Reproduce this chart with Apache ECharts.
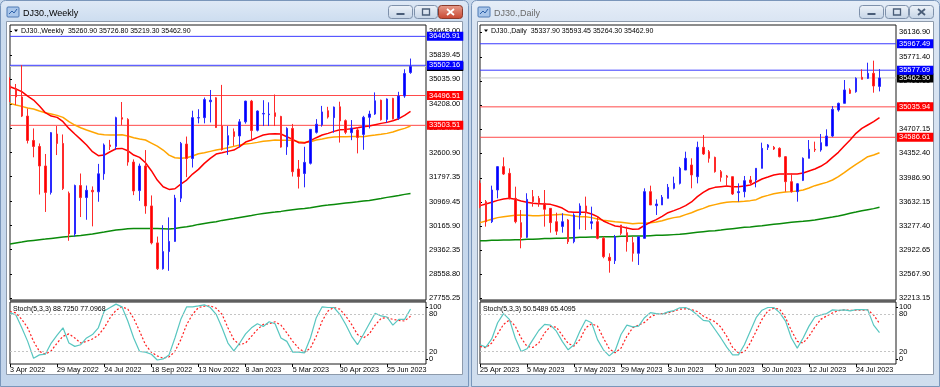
<!DOCTYPE html>
<html><head><meta charset="utf-8">
<script src="https://cdn.jsdelivr.net/npm/echarts@6/dist/echarts.min.js"></script>
<style>html,body{margin:0;padding:0;background:#c6d7eb;}#c{width:940px;height:387px;}</style>
</head><body><div id="c"></div><script>
// ---------- DATA ----------
const weeklyTickLabels = ['3 Apr 2022','29 May 2022','24 Jul 2022','18 Sep 2022','13 Nov 2022','8 Jan 2023','5 Mar 2023','30 Apr 2023','25 Jun 2023'];
const dailyTickLabels = ['25 Apr 2023','5 May 2023','17 May 2023','29 May 2023','8 Jun 2023','20 Jun 2023','30 Jun 2023','12 Jul 2023','24 Jul 2023'];
const weeklyPriceTicks = [27755.25,28558.80,29362.35,30165.90,30969.45,31797.35,32600.90,33404.45,34208.00,35035.90,35839.45,36643.00];
const dailyPriceTicks = [32213.15,32567.90,32922.65,33277.40,33632.15,33986.90,34352.40,34707.15,35061.90,35416.65,35771.40,36136.90];
const stochInnerTicks = [20,80];
const stochOuterLabels = ['0','100'];
const stochLevels = [20,80];

const weeklyLevelsBlue = [36465.91,35502.16];
const weeklyLevelsRed = [34496.51,33503.51];
const dailyLevelsBlue = [35967.49,35577.09];
const dailyLevelsRed = [35035.94,34586.61];
const lastPrice = 35462.90;

const weeklyOpen = [34818,34721,34451,33811,33000,32800,32150,31270,33214,32900,31240,29890,31500,31100,31340,31290,31890,32850,32800,33760,33700,32280,31330,32150,30820,29590,28730,29300,29640,31080,32880,32400,33750,33760,34290,34420,33480,32850,33290,33150,33620,34310,33340,33880,33860,33920,33800,32790,33400,32050,31900,32240,33270,33520,33990,33760,34120,33660,33260,33350,33200,33770,33880,34340,33700,34400,33740,34480,35260.90];
const weeklyHigh = [35100,34880,35510,34060,33400,32900,32550,33280,33480,33200,31300,31530,31900,31500,31470,32220,32900,33020,33790,34280,33740,32370,32230,32680,31170,29800,30180,30440,31190,32950,33130,33990,34040,34430,34680,34440,34850,33480,33400,33710,34320,34350,34000,34340,34270,34530,33820,33440,33550,32350,32790,33380,33710,34150,34120,34130,34290,33700,33680,33440,33820,33990,34600,34360,34400,34420,34620,35370,35726.80];
const weeklyLow = [34280,34180,33780,32900,32440,31200,30620,31200,32514,31350,29660,29800,30450,30360,30140,30960,31690,32680,32680,33510,32160,31180,30990,30560,29540,28690,28700,28660,29630,30950,31780,32100,33570,33570,33600,33420,32660,32520,32820,32770,33560,33000,33300,33480,33480,33480,32760,32520,31800,31400,31440,32200,33230,33460,33730,33260,32930,33210,33010,32570,32690,33400,33850,33660,33590,33700,33680,34420,35219.30];
const weeklyClose = [34721,34451,33811,33000,32800,32150,31270,33260,32900,31400,29890,31500,31100,31340,31290,31890,32850,32800,33760,33710,32280,31320,32150,30820,29590,28730,29300,29640,31080,32900,32400,33760,33760,34360,34340,33430,32700,33160,33130,33620,34310,33330,33980,33900,33880,33800,32780,33400,31960,31800,32270,33370,33540,33950,33780,34110,33650,33270,33410,33100,33770,33880,34320,33690,34380,33720,34480,35230,35462.90];
const weeklyMaRed = [34790,34712,34624,34479,34346,34146,33924,33813,33769,33624,33402,33214,33036,32848,32625,32492,32514,32625,32725,32736,32659,32514,32437,32259,31993,31682,31460,31371,31393,31549,31682,31882,32037,32237,32404,32548,32592,32637,32681,32792,32947,33014,33103,33180,33214,33225,33214,33125,33036,32925,32914,32992,33092,33180,33236,33303,33358,33369,33391,33425,33458,33480,33525,33569,33602,33658,33724,33835,33969];
const weeklyMaOrange = [34235,34180,34135,34080,34046,33980,33924,33880,33835,33769,33624,33513,33425,33347,33280,33214,33192,33180,33180,33192,33147,33092,33047,33014,32914,32814,32681,32514,32426,32404,32426,32481,32559,32592,32637,32681,32714,32759,32803,32848,32881,32903,32936,32970,32992,33014,33003,33003,33003,32959,32936,32959,33014,33047,33092,33114,33125,33125,33136,33136,33125,33158,33180,33203,33236,33280,33347,33402,33480];
const weeklyMaGreen = [29551,29584,29617,29651,29673,29695,29717,29740,29762,29784,29806,29817,29839,29862,29884,29917,29950,29984,30017,30039,30061,30072,30072,30072,30072,30072,30061,30050,30072,30106,30128,30161,30206,30239,30272,30294,30339,30372,30405,30439,30472,30505,30539,30572,30594,30616,30639,30672,30694,30716,30738,30761,30794,30827,30849,30872,30894,30916,30938,30960,30983,31005,31038,31071,31105,31138,31171,31205,31238];
const weeklyStochK = [82.9,79.1,58.4,36.5,9.3,14.7,15.8,33.8,46.4,58.4,33.8,28.4,31.1,42.0,47.5,58.4,85.6,91.1,96.6,92.2,69.3,42.0,20.2,19.1,15.8,6.5,8.2,14.7,42.0,72.0,92.2,92.2,93.8,95.5,91.1,80.2,58.4,33.8,21.3,33.8,48.5,58.4,64.9,60.6,68.2,64.9,42.0,36.5,19.1,19.1,18.0,42.0,74.7,92.2,91.1,91.1,80.2,63.8,44.7,31.1,47.5,64.9,81.8,77.5,75.8,62.7,72.0,72.0,88.725];
const weeklyStochD = [84.6,82.4,72.0,58.4,36.5,20.2,15.8,21.3,33.8,44.7,48.5,42.0,33.8,36.5,40.4,46.4,58.4,74.7,86.7,92.2,88.4,73.6,52.9,31.1,19.1,13.1,9.3,11.4,20.2,39.3,63.8,80.2,91.1,93.3,93.8,90.0,80.2,58.4,39.3,31.1,33.8,44.7,55.6,63.8,64.9,68.2,62.7,50.2,36.5,25.6,19.1,25.6,44.7,69.3,85.6,91.1,88.4,77.5,63.8,47.5,42.0,48.5,62.7,73.6,74.7,72.0,70.4,69.3,77.0968];

const dailyOpen = [33906,33636,33340,33808,34153,34054,33685,33326,33109,33710,33685,33611,33537,33340,33270,33365,33045,33439,33572,33316,33340,33094,32814,32765,33291,33178,33030,32873,33094,33784,33577,33587,33685,33833,33906,34103,34177,34005,34438,34374,34290,34079,34015,34005,33769,33784,33956,33956,34128,34438,34438,34423,34300,33931,33784,33950,34276,34409,34399,34458,34605,34989,35088,35285,35260,35472,35457,35531,35337.90];
const dailyHigh = [33950,33660,33872,34160,34290,34128,33857,33513,33760,33808,33720,33808,33537,33473,33464,33380,33464,33611,33710,33562,33414,33120,32873,33144,33291,33267,33119,33119,33833,33872,33670,33734,33897,34005,34150,34374,34276,34522,34620,34399,34300,34103,34030,34005,33906,34015,34015,34128,34507,34487,34458,34438,34310,34054,33910,34290,34546,34522,34635,34704,35048,35098,35432,35309,35472,35590,35688,35718,35593.45];
const dailyLow = [33540,33267,33320,33685,34030,33670,33316,32947,33100,33562,33560,33267,33178,33144,33178,33011,33021,33227,33217,33227,33080,32800,32587,32715,33144,32898,32750,32701,33094,33587,33439,33587,33685,33818,33890,34103,33833,33906,34325,34212,34064,33931,33857,33734,33636,33700,33882,33847,34128,34399,34399,34290,33784,33769,33636,33940,34276,34370,34374,34458,34590,34965,35088,35226,35245,35442,35447,35245,35264.30];
const dailyClose = [33562,33340,33808,34153,34044,33685,33340,33109,33670,33636,33621,33523,33326,33200,33340,33045,33439,33572,33473,33340,33094,32824,32765,33119,33168,33045,32873,33119,33784,33587,33601,33700,33847,33906,34128,34276,34030,34438,34340,34276,34079,33995,33995,33749,33784,33946,33916,34128,34423,34473,34413,34300,33931,33784,33900,34276,34409,34399,34507,34605,34999,35088,35285,35235,35457,35442,35531,35344,35462.90];
const dailyMaRed = [33577,33601,33626,33655,33675,33685,33670,33646,33626,33611,33606,33601,33596,33572,33542,33488,33478,33478,33478,33454,33414,33350,33311,33277,33267,33247,33227,33232,33286,33331,33370,33419,33473,33503,33537,33577,33631,33710,33774,33823,33847,33857,33867,33857,33857,33867,33882,33926,33971,34000,34030,34044,34044,34044,34044,34059,34089,34118,34158,34212,34290,34364,34458,34546,34645,34719,34768,34817,34876];
const dailyMaOrange = [33326,33350,33375,33400,33414,33424,33434,33439,33434,33429,33429,33434,33439,33444,33449,33439,33424,33414,33414,33400,33380,33360,33350,33340,33331,33321,33311,33316,33316,33326,33336,33355,33380,33400,33414,33444,33473,33508,33537,33572,33592,33611,33626,33636,33636,33641,33651,33665,33705,33729,33754,33769,33779,33784,33793,33808,33838,33872,33897,33921,33956,34005,34064,34128,34187,34241,34300,34325,34359];
const dailyMaGreen = [33060,33060,33065,33065,33070,33070,33075,33075,33080,33080,33085,33090,33090,33094,33094,33099,33104,33109,33109,33114,33114,33119,33119,33119,33124,33124,33129,33129,33129,33134,33139,33139,33144,33149,33153,33163,33173,33183,33193,33203,33208,33217,33227,33237,33247,33257,33262,33272,33281,33291,33301,33311,33321,33331,33340,33345,33355,33365,33380,33395,33409,33424,33444,33464,33483,33503,33518,33533,33552];
const dailyStochK = [31.1,27.3,40.4,66.5,81.3,72.0,42.0,20.2,24.5,39.3,54.0,63.8,62.7,52.9,36.5,22.9,31.1,52.9,70.9,66.5,39.3,22.9,13.1,21.3,47.5,62.7,60.0,61.1,74.7,82.9,81.3,80.2,84.0,86.2,90.6,91.1,86.7,79.1,70.4,69.3,55.6,42.0,27.3,14.7,14.7,31.1,52.9,74.7,86.7,91.1,91.1,82.9,69.3,42.0,25.6,42.0,61.1,75.8,79.1,81.3,87.3,86.7,87.3,85.6,87.8,87.8,87.3,62.7,50.5489];
const dailyStochD = [28.4,26.2,33.8,48.5,63.8,70.9,61.1,42.0,28.4,26.7,33.8,50.2,60.6,59.5,46.4,33.3,28.9,39.3,58.4,64.9,61.1,42.0,24.5,18.0,25.6,44.7,58.4,62.7,67.1,75.8,80.2,81.3,82.4,85.1,88.4,88.9,87.8,84.6,77.5,72.6,68.2,59.5,44.7,26.7,18.0,19.1,33.8,52.9,72.0,85.6,90.0,88.4,74.7,54.0,36.5,33.8,44.7,59.5,72.0,77.5,82.4,86.2,87.3,86.7,86.7,86.7,87.3,79.1,65.4095];

// ---------- BUILD ----------
const FONT = '"Liberation Sans", Arial, sans-serif';
const candles = (o,h,l,c) => o.map((v,i)=>[i, v, c[i], l[i], h[i]]);
const line = vals => vals.map((v,i)=>[i,v]);
const fmt2 = v => Number(v).toFixed(2);

function levelSeries(xi, xMax, value, lineColor, boxColor){
  return {type:'line', xAxisIndex:xi, yAxisIndex:xi, data:[[0,value],[xMax,value]], symbol:'none', silent:true,
    lineStyle:{color:lineColor, width:1, type:'solid'}, itemStyle:{color:lineColor}, z:2,
    endLabel:{show:true, formatter:()=>fmt2(value), color:'#ffffff', backgroundColor:boxColor,
      fontSize:7.5, fontFamily:FONT, padding:[1,3,0,2], distance:1, align:'left', verticalAlign:'middle'}};
}
const stochMark = {silent:true, symbol:['none','none'], animation:false,
  data: stochLevels.map(v=>({yAxis:v})), label:{show:false},
  lineStyle:{color:'#c4c4c4', type:[2,2], width:1}};

function priceY(grid, min, max, ticks){
  return {type:'value', gridIndex:grid, min:min, max:max, position:'right',
    axisLine:{show:false}, splitLine:{show:false},
    axisTick:{show:true, length:2, customValues:ticks, lineStyle:{color:'#000'}},
    axisLabel:{customValues:ticks, hideOverlap:false, formatter:v=>fmt2(v), fontSize:7.5, color:'#000', margin:3, fontFamily:FONT}};
}
// stochastic scale: inner level labels on one axis ...
function stochY(grid){
  return {type:'value', gridIndex:grid, min:0, max:100, position:'right',
    axisLine:{show:false}, splitLine:{show:false},
    axisTick:{show:true, length:2, customValues:stochInnerTicks, lineStyle:{color:'#000'}},
    axisLabel:{customValues:stochInnerTicks, showMinLabel:true, showMaxLabel:true, hideOverlap:false,
      fontSize:7.5, color:'#000', margin:3, fontFamily:FONT, formatter:v=>String(Math.round(v))}};
}
// ... and the 0 / 100 labels (drawn just inside the panel edge, as MetaTrader does) on a twin axis
const outerPos = [8, 91.5];
function stochYOuter(grid){
  return {type:'value', gridIndex:grid, min:0, max:100, position:'right',
    axisLine:{show:false}, splitLine:{show:false},
    axisTick:{show:true, length:2, customValues:outerPos, lineStyle:{color:'#000'}},
    axisLabel:{customValues:outerPos, showMinLabel:true, showMaxLabel:true, hideOverlap:false,
      fontSize:7.5, color:'#000', margin:3, fontFamily:FONT, formatter:v=> v > 50 ? stochOuterLabels[1] : stochOuterLabels[0]}};
}
function timeX(grid, max, labels, show){
  const pos = labels.map((_,k)=>k*8);
  return {type:'value', gridIndex:grid, min:0, max:max, position:'bottom', show:show,
    axisLine:{show:false}, splitLine:{show:false},
    axisTick:{show:true, length:3, customValues:pos, lineStyle:{color:'#000'}},
    axisLabel:{customValues:pos, hideOverlap:false, showMinLabel:true, align:'left', fontSize:7.2, color:'#000', margin:3, fontFamily:FONT,
      formatter:v=>labels[Math.round(v/8)]}};
}
const gridBase = {show:true, borderColor:'#1a1a1a', borderWidth:1, backgroundColor:'transparent', containLabel:false};

function candleSeries(xi, o,h,l,c){
  return {type:'candlestick', xAxisIndex:xi, yAxisIndex:xi, data:candles(o,h,l,c),
    encode:{x:0, y:[1,2,3,4]}, barWidth:2, silent:true, z:3,
    itemStyle:{color:'#0000ff', color0:'#ff0000', borderColor:'#2a2aff', borderColor0:'#ff2a2a', borderWidth:1}};
}
function maSeries(xi, vals, color){
  return {type:'line', xAxisIndex:xi, yAxisIndex:xi, data:line(vals), symbol:'none', silent:true, z:3,
    lineStyle:{color:color, width:1.5}, itemStyle:{color:color}};
}
function stochSeries(xi, vals, color, dashed, mark){
  const s = {type:'line', xAxisIndex:xi, yAxisIndex:xi, data:line(vals), symbol:'none', silent:true,
    lineStyle:{color:color, width:1.2, type: dashed ? [2,2] : 'solid'}, itemStyle:{color:color}};
  if (mark) s.markLine = mark;
  return s;
}

// ---------- window chrome ----------
function chrome(x0, w, active, title, plotL){
  const G = echarts.graphic;
  const els = [];
  els.push({type:'rect', z:-30, shape:{x:x0+0.5, y:0.5, width:w-1, height:386, r:[5,5,0,0]},
    style:{fill:new G.LinearGradient(0,0,0,1,[{offset:0,color:active?'#dfe9f6':'#e6eef8'},{offset:0.06,color:active?'#cbdcef':'#d9e4f2'},{offset:1,color:active?'#c3d5eb':'#d0deee'}]), stroke:'#7a96ba'}});
  els.push({type:'rect', z:-29, shape:{x:x0+6.5, y:21.5, width:w-13, height:353}, style:{fill:'#ffffff', stroke:'#8d9aab'}});
  els.push({type:'rect', z:-28, shape:{x:x0+7, y:7, width:12, height:10, r:1}, style:{fill:'#a9c6ea', stroke:'#4f7bb5'}});
  els.push({type:'polyline', z:-27, shape:{points:[[x0+9,14],[x0+12,11],[x0+14,13],[x0+17,9]]}, style:{stroke:'#2b5fa8', lineWidth:1}});
  els.push({type:'text', z:10, x:x0+23, y:14, style:{text:title, fontSize:9, fontFamily:FONT, fill:active?'#000':'#6a6a6a', verticalAlign:'middle'}});
  const bx = [x0+w-81, x0+w-55, x0+w-31];
  const bw = [24, 23, 24];
  bx.forEach((b,k)=>{
    const isClose = k===2;
    const fill = isClose && active ? new G.LinearGradient(0,0,0,1,[{offset:0,color:'#e8a08f'},{offset:1,color:'#c7442e'}])
                                   : new G.LinearGradient(0,0,0,1,[{offset:0,color:'#eef3f9'},{offset:1,color:'#c5d4e6'}]);
    els.push({type:'rect', z:-26, shape:{x:b+0.5, y:5.5, width:bw[k], height:13, r:3}, style:{fill:fill, stroke:isClose&&active?'#8a3a2c':'#7e91ab'}});
    const cx = b + bw[k]/2 + 0.5, cy = 12;
    const gc = isClose && active ? '#ffffff' : '#4a5d78';
    if (k===0) els.push({type:'rect', z:-25, shape:{x:cx-4, y:cy+1, width:8, height:2}, style:{fill:gc}});
    if (k===1) els.push({type:'rect', z:-25, shape:{x:cx-3.5, y:cy-3, width:7, height:6}, style:{fill:'none', stroke:gc, lineWidth:1.3}});
    if (k===2) {
      els.push({type:'line', z:-25, shape:{x1:cx-3.5, y1:cy-3, x2:cx+3.5, y2:cy+3}, style:{stroke:gc, lineWidth:1.8}});
      els.push({type:'line', z:-25, shape:{x1:cx+3.5, y1:cy-3, x2:cx-3.5, y2:cy+3}, style:{stroke:gc, lineWidth:1.8}});
    }
  });
  els.push({type:'rect', z:-20, shape:{x:plotL, y:300, width:416, height:2}, style:{fill:'#a4a4a4'}});
  return els;
}
function headerTexts(plotL, main, stoch){
  return [
    {type:'polygon', z:10, shape:{points:[[plotL+4,29.5],[plotL+8,29.5],[plotL+6,32]]}, style:{fill:'#000'}},
    {type:'text', z:10, x:plotL+11, y:31, style:{text:main, fontSize:7, fontFamily:FONT, fill:'#000', verticalAlign:'middle'}},
    {type:'text', z:10, x:plotL+3, y:309, style:{text:stoch, fontSize:7, fontFamily:FONT, fill:'#000', verticalAlign:'middle'}}
  ];
}

const chart = echarts.init(document.getElementById('c'), null, {renderer:'canvas', width:940, height:387});
const wMax = 416/5.89, dMax = 416/5.875;
const series = [];
series.push(levelSeries(0, wMax, lastPrice, '#c8c8c8', '#000000'));
weeklyLevelsRed.forEach(v=>series.push(levelSeries(0, wMax, v, '#ff4a4a', '#ff0000')));
weeklyLevelsBlue.forEach(v=>series.push(levelSeries(0, wMax, v, '#3a3aff', '#0000ff')));
series.push(maSeries(0, weeklyMaGreen, '#0a8a0a'), maSeries(0, weeklyMaOrange, '#ffa500'), maSeries(0, weeklyMaRed, '#ff0000'));
series.push(candleSeries(0, weeklyOpen, weeklyHigh, weeklyLow, weeklyClose));
series.push(stochSeries(1, weeklyStochD, '#ff2020', true, stochMark), stochSeries(1, weeklyStochK, '#58c6c0', false, null));
series.push(levelSeries(2, dMax, lastPrice, '#c8c8c8', '#000000'));
dailyLevelsRed.forEach(v=>series.push(levelSeries(2, dMax, v, '#ff4a4a', '#ff0000')));
dailyLevelsBlue.forEach(v=>series.push(levelSeries(2, dMax, v, '#3a3aff', '#0000ff')));
series.push(maSeries(2, dailyMaGreen, '#0a8a0a'), maSeries(2, dailyMaOrange, '#ffa500'), maSeries(2, dailyMaRed, '#ff0000'));
series.push(candleSeries(2, dailyOpen, dailyHigh, dailyLow, dailyClose));
series.push(stochSeries(3, dailyStochD, '#ff2020', true, stochMark), stochSeries(3, dailyStochK, '#58c6c0', false, null));

const option = {
  animation:false,
  graphic:[].concat(
    chrome(0, 469, true, 'DJ30.,Weekly', 10),
    chrome(471, 469, false, 'DJ30.,Daily', 480),
    headerTexts(10, 'DJ30.,Weekly  35260.90 35726.80 35219.30 35462.90', 'Stoch(5,3,3) 88.7250 77.0968'),
    headerTexts(480, 'DJ30.,Daily  35337.90 35593.45 35264.30 35462.90', 'Stoch(5,3,3) 50.5489 65.4095')
  ),
  grid:[
    Object.assign({left:10, top:25, width:416, height:275}, gridBase),
    Object.assign({left:10, top:302, width:416, height:62}, gridBase),
    Object.assign({left:480, top:25, width:416, height:275}, gridBase),
    Object.assign({left:480, top:302, width:416, height:62}, gridBase)
  ],
  xAxis:[
    timeX(0, wMax, weeklyTickLabels, false),
    timeX(1, wMax, weeklyTickLabels, true),
    timeX(2, dMax, dailyTickLabels, false),
    timeX(3, dMax, dailyTickLabels, true)
  ],
  yAxis:[
    priceY(0, 27688.7, 36843.9, weeklyPriceTicks),
    stochY(1),
    priceY(2, 32183.6, 36244.6, dailyPriceTicks),
    stochY(3),
    stochYOuter(1),
    stochYOuter(3)
  ],
  series: series
};
chart.setOption(option);
</script></body></html>
